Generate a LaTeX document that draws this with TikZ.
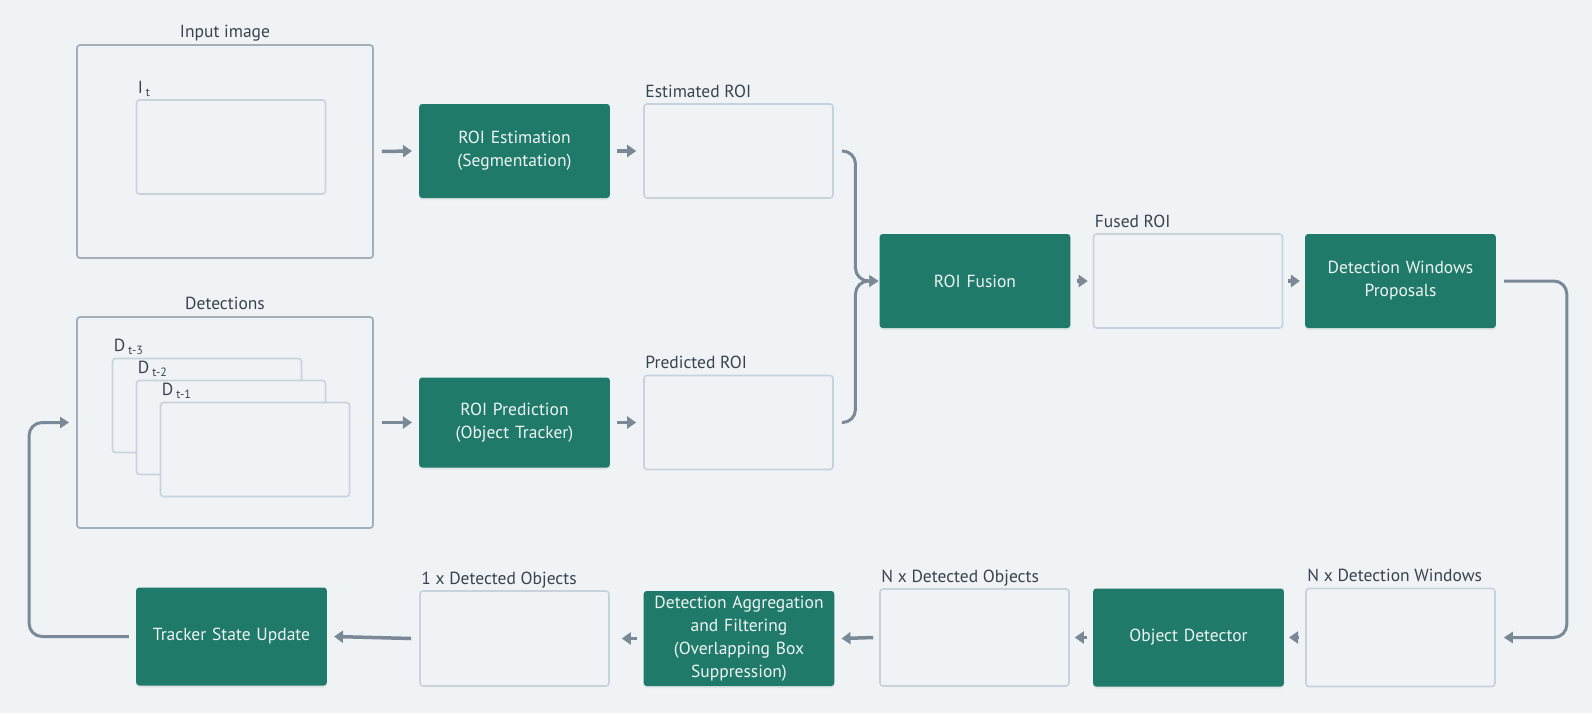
\documentclass[tikz,border=0pt]{standalone}
\usepackage{fontspec}
\setmainfont{PT Sans}
\usetikzlibrary{positioning, arrows.meta, shadows}
\definecolor{bgcol}{HTML}{EFF3F6}
\definecolor{procgreen}{HTML}{207A69}
\definecolor{linkgray}{HTML}{7B8997}
\definecolor{framegray}{HTML}{A4AFBA}
\definecolor{slotgray}{HTML}{C9D2DB}
\definecolor{textgray}{HTML}{3A434D}
\newcommand{\lowtxt}[1]{\hspace{3pt}{\fontsize{12}{12}\selectfont\raisebox{-3pt}{#1}}}
\tikzstyle{process} = [rectangle, rounded corners=3pt, minimum width=189pt, minimum height=94pt, text width=184pt, align=center, fill=procgreen, text=white!92!procgreen, font=\fontsize{17.5}{23}\selectfont, drop shadow={shadow xshift=0pt, shadow yshift=-2pt, opacity=0.12}]
\tikzstyle{frame} = [rectangle, rounded corners=3pt, draw=framegray, line width=1.8pt]
\tikzstyle{slot} = [rectangle, rounded corners=3pt, minimum width=189pt, minimum height=94pt, draw=slotgray, line width=1.6pt, fill=bgcol]
\tikzstyle{lbl} = [text=textgray, font=\fontsize{17.5}{20}\selectfont, inner sep=2pt, text depth=4pt]
\tikzstyle{arrow} = [line width=3.5pt, draw=linkgray, -{Triangle[length=9pt,width=12pt]}]
\tikzstyle{link} = [line width=3pt, draw=linkgray, rounded corners=13pt, -{Triangle[length=9pt,width=11pt]}]

\begin{document}
\begin{tikzpicture}[x=1pt, y=-1pt]
    \fill [bgcol] (0,0) rectangle (1592,713);

    % input image and detections
    \node (input) [frame, minimum width=296pt, minimum height=213pt] at (225,151.5) {};
    \node (inputlbl) [lbl, anchor=south] at (input.north) {Input image};
    \node (img) [slot] at (231,147) {};
    \node (imglbl) [lbl, anchor=south west] at (img.north west) {I\lowtxt{t}};
    \node (detect) [frame, minimum width=296pt, minimum height=211pt, below of=input, node distance=271pt] {};
    \node (detectlbl) [lbl, anchor=south] at (detect.north) {Detections};
    \node (dt3) [slot] at (207,405.5) {};
    \node (dt3lbl) [lbl, anchor=south west] at (dt3.north west) {D\lowtxt{t-3}};
    \node (dt2) [slot] at ([shift={(24,22)}]dt3) {};
    \node (dt2lbl) [lbl, anchor=south west] at (dt2.north west) {D\lowtxt{t-2}};
    \node (dt1) [slot] at ([shift={(24,22)}]dt2) {};
    \node (dt1lbl) [lbl, anchor=south west] at (dt1.north west) {D\lowtxt{t-1}};

    % roi estimation and prediction
    \node (roiest) [process] at (514.5,151) {ROI Estimation\\(Segmentation)};
    \node (estroi) [slot, right of=roiest, node distance=224pt] {};
    \node (estlbl) [lbl, anchor=south west] at (estroi.north west) {Estimated ROI};
    \node (roipred) [process, minimum height=90pt, below of=roiest, node distance=271.5pt] {ROI Prediction\\(Object Tracker)};
    \node (predroi) [slot, right of=roipred, node distance=224pt] {};
    \node (predlbl) [lbl, anchor=south west] at (predroi.north west) {Predicted ROI};

    % fusion
    \node (fusion) [process] at (975,281) {ROI Fusion};
    \node (fused) [slot, right of=fusion, node distance=213pt] {};
    \node (fusedlbl) [lbl, anchor=south west] at (fused.north west) {Fused ROI};
    \node (dwp) [process, right of=fused, node distance=212.5pt] {Detection Windows\\Proposals};

    % bottom row
    \node (nxdw) [slot, minimum height=98pt, below of=dwp, node distance=356.5pt] {};
    \node (nxdwlbl) [lbl, anchor=south west] at (nxdw.north west) {N x Detection Windows};
    \node (od) [process, minimum height=98pt, left of=nxdw, node distance=212pt] {Object Detector};
    \node (nxdo) [slot, minimum height=97pt, left of=od, node distance=214pt] {};
    \node (nxdolbl) [lbl, anchor=south west] at (nxdo.north west) {N x Detected Objects};
    \node (dagg) [process, minimum height=95pt, left of=nxdo, node distance=235.5pt, yshift=-1pt] {Detection Aggregation\\and Filtering\\(Overlapping Box\\Suppression)};
    \node (onex) [slot, minimum height=95pt, left of=dagg, node distance=224.5pt] {};
    \node (onexlbl) [lbl, anchor=south west] at (onex.north west) {1 x Detected Objects};
    \node (tracker) [process, minimum height=98pt, left of=onex, node distance=283pt, yshift=2pt] {Tracker State Update};

    \draw [arrow] ([xshift=8pt]input.east) -- ([xshift=-7pt]roiest.west);
    \draw [arrow] ([xshift=7pt]roiest.east) -- ([xshift=-7pt]estroi.west);
    \draw [arrow] ([xshift=8pt]detect.east) -- ([xshift=-7pt]roipred.west);
    \draw [arrow] ([xshift=7pt]roipred.east) -- ([xshift=-7pt]predroi.west);
    \draw [arrow] ([xshift=6pt]fusion.east) -- ([xshift=-5pt]fused.west);
    \draw [arrow] ([xshift=5pt]fused.east) -- ([xshift=-5pt]dwp.west);
    \draw [arrow] ([xshift=-6pt]nxdw.west) -- ([xshift=5pt]od.east);
    \draw [arrow] ([xshift=-6pt]od.west) -- ([xshift=5pt]nxdo.east);
    \draw [arrow] ([xshift=-6pt]nxdo.west) -- ([xshift=7pt]dagg.east);
    \draw [arrow] ([xshift=-6pt]dagg.west) -- ([xshift=12pt]onex.east);
    \draw [arrow] ([xshift=-8pt]onex.west) -- ([xshift=7pt]tracker.east);

    \draw [link] ([xshift=8pt]estroi.east) -| ([xshift=-24pt]fusion.west) -- ([xshift=-1pt]fusion.west);
    \draw [link] ([xshift=8pt]predroi.east) -| ([xshift=-24pt]fusion.west) -- ([xshift=-1pt]fusion.west);
    \draw [link] ([xshift=8pt]dwp.east) -| ([xshift=71pt]nxdw.east) -- ([xshift=8pt]nxdw.east);
    \draw [link] ([xshift=-7pt]tracker.west) -| ([xshift=-47pt]detect.west) -- ([xshift=-7pt]detect.west);
\end{tikzpicture}
\end{document}
